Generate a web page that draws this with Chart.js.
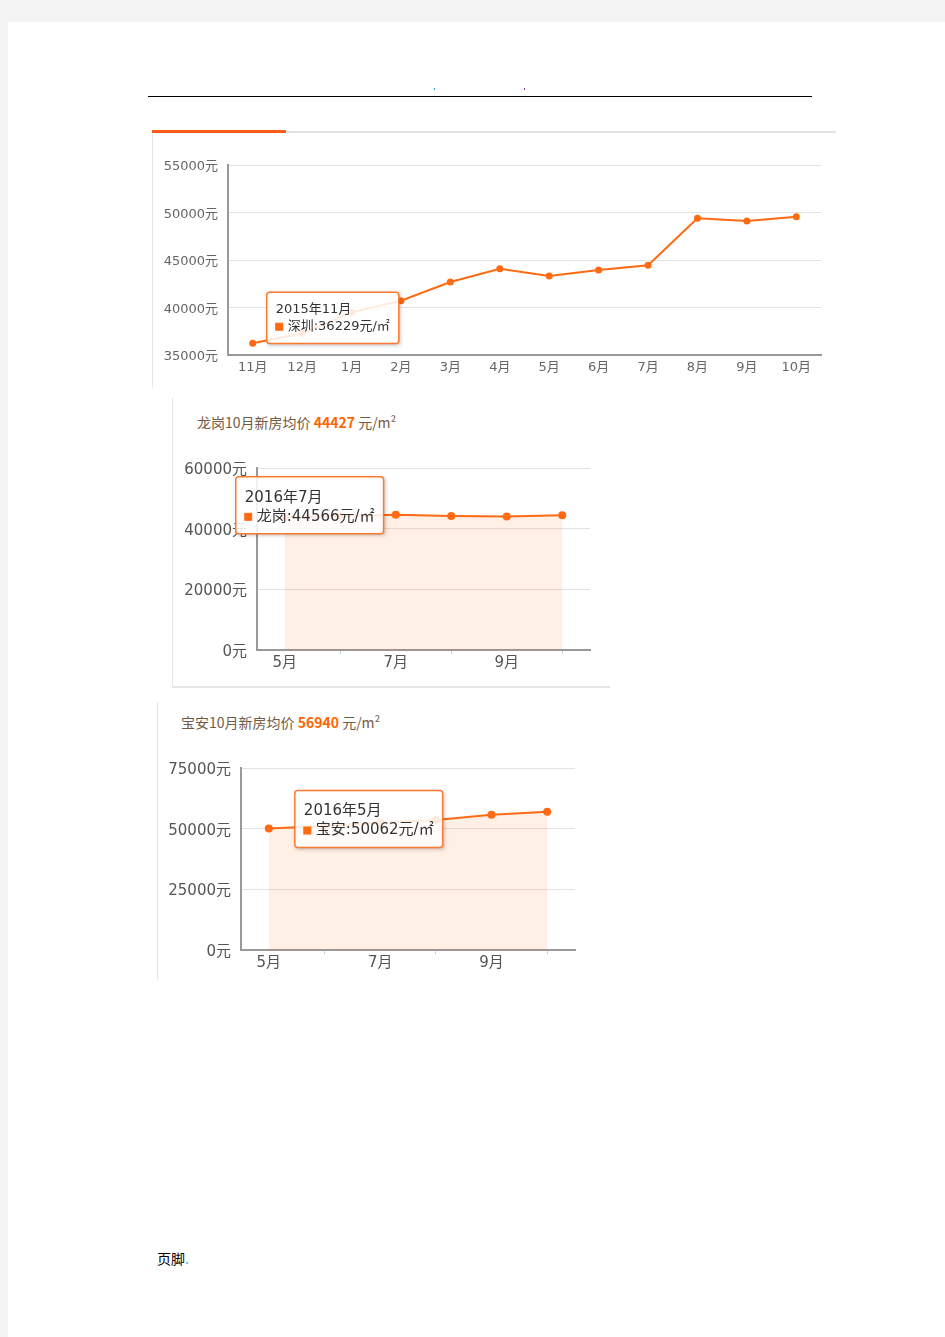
<!DOCTYPE html>
<html><head><meta charset="utf-8">
<script src="https://cdn.jsdelivr.net/npm/chart.js@4.4.1/dist/chart.umd.min.js"></script>
<style>
html,body{margin:0;padding:0;}
body{width:945px;height:1337px;background:#f3f3f3;position:relative;overflow:hidden;font-family:"Noto Sans CJK SC","DejaVu Sans",sans-serif;}
.page{position:absolute;left:8px;top:22px;width:937px;height:1315px;background:#fff;}
.abs{position:absolute;}
.title{position:absolute;font-size:14px;line-height:18px;color:#735a45;white-space:nowrap;font-family:"Noto Sans CJK SC",sans-serif;}
.title b{color:#ff6600;font-weight:bold;}
</style></head>
<body>
<div class="page"></div>
<!-- header -->
<div class="abs" style="left:148px;top:96px;width:664px;height:1px;background:#000;"></div>
<div class="abs" style="left:434px;top:88px;width:1px;height:2px;background:#2aa0d0;"></div>
<div class="abs" style="left:524px;top:88px;width:1px;height:2px;background:#7030a0;"></div>

<!-- chart 1 panel -->
<div class="abs" style="left:152px;top:130px;width:134px;height:3px;background:#ff5a1a;"></div>
<div class="abs" style="left:286px;top:131px;width:550px;height:2px;background:#e2e2e2;"></div>
<div class="abs" style="left:152px;top:133px;width:1px;height:255px;background:#e6e6e6;"></div>
<div class="abs" style="left:152px;top:140px;width:690px;height:250px;"><canvas id="c1"></canvas></div>

<!-- chart 2 panel -->
<div class="abs" style="left:172px;top:398px;width:1px;height:290px;background:#e2e2e2;"></div>
<div class="abs" style="left:172px;top:686px;width:438px;height:2px;background:#e6e6e6;"></div>
<div class="title" style="left:197px;top:413px;">龙岗10月新房均价 <b>44427</b> 元/m²</div>
<div class="abs" style="left:172px;top:440px;width:438px;height:240px;"><canvas id="c2"></canvas></div>

<!-- chart 3 panel -->
<div class="abs" style="left:157px;top:702px;width:1px;height:278px;background:#e6e6e6;"></div>
<div class="title" style="left:181px;top:713px;">宝安10月新房均价 <b>56940</b> 元/m²</div>
<div class="abs" style="left:157px;top:740px;width:438px;height:240px;"><canvas id="c3"></canvas></div>

<!-- footer -->
<div class="abs" style="left:157px;top:1249px;font-size:14px;line-height:18px;color:#000;">页脚<span style="color:#5ab4e6">.</span></div>

<script>
// ---- data ----
const szLabels = ['11月','12月','1月','2月','3月','4月','5月','6月','7月','8月','9月','10月'];
const szValues = [36229, 37280, 39490, 40716, 42684, 44084, 43316, 43947, 44442, 49400, 49100, 49550];
const szYears  = ['2015','2015','2016','2016','2016','2016','2016','2016','2016','2016','2016','2016'];
const szName = '深圳';
const szTicks = [35000, 40000, 45000, 50000, 55000];

const lgLabels = ['5月','6月','7月','8月','9月','10月'];
const lgValues = [43800, 44200, 44566, 44150, 43980, 44427];
const lgName = '龙岗';
const lgTicks = [0, 20000, 40000, 60000];

const baLabels = ['5月','6月','7月','8月','9月','10月'];
const baValues = [50062, 51100, 52450, 53560, 55700, 56940];
const baName = '宝安';
const baTicks = [0, 25000, 50000, 75000];

const tipYear = '2016';

// ---- tooltip placement: offset of box top-left from the active point ----
const tipOffsets = { c1: [14, -51], c2: [-160, -38], c3: [26, -38] };
const TIP_R = 3;
Chart.Tooltip.positioners.fixedOffset = function(items) {
  if (!items.length) return false;
  const el = items[0].element;
  const o = tipOffsets[this.chart.canvas.id];
  return { x: el.x + o[0] + TIP_R, y: el.y + o[1] };
};

const shadowPlugin = {
  id: 'tipShadow',
  beforeTooltipDraw(chart, args) {
    const t = args.tooltip;
    if (!t.opacity) return;
    const ctx = chart.ctx;
    ctx.save();
    ctx.beginPath();
    ctx.rect(0, 0, chart.width, chart.height);
    ctx.rect(t.x + t.width, t.y, -t.width, t.height);
    ctx.clip('evenodd');
    ctx.shadowColor = 'rgba(0,0,0,0.28)';
    ctx.shadowBlur = 4;
    ctx.shadowOffsetX = 1 + 10000;
    ctx.shadowOffsetY = 1;
    ctx.fillStyle = '#000';
    ctx.fillRect(t.x - 10000, t.y, t.width, t.height);
    ctx.restore();
  }
};

const ORANGE = '#ff6a13';
const FONT = "'DejaVu Sans','Noto Sans CJK SC',sans-serif";

function makeChart(id, cfg) {
  const ctx = document.getElementById(id);
  const chart = new Chart(ctx, {
    type: 'line',
    plugins: [shadowPlugin],
    data: {
      labels: cfg.labels,
      datasets: [{
        label: cfg.name,
        data: cfg.values,
        borderColor: ORANGE,
        backgroundColor: cfg.fill ? 'rgba(255,106,19,0.11)' : ORANGE,
        fill: cfg.fill ? 'origin' : false,
        borderWidth: 2,
        pointRadius: cfg.pointR,
        pointBackgroundColor: ORANGE,
        pointBorderColor: ORANGE,
        pointBorderWidth: 0,
        tension: 0
      }]
    },
    options: {
      responsive: true,
      maintainAspectRatio: false,
      animation: false,
      events: [],
      layout: { padding: { left: 0, right: cfg.padR, top: cfg.padT, bottom: 0 } },
      plugins: {
        legend: { display: false },
        title: { display: false },
        tooltip: {
          enabled: true,
          animation: false,
          position: 'fixedOffset',
          xAlign: 'left',
          yAlign: 'top',
          caretSize: 0,
          caretPadding: 0,
          cornerRadius: TIP_R,
          backgroundColor: 'rgba(255,255,255,0.86)',
          borderColor: '#ff7a2e',
          borderWidth: 1.5,
          padding: { left: 9, right: 9, top: cfg.tipPadT, bottom: cfg.tipPadB },
          titleColor: '#333',
          bodyColor: '#333',
          titleFont: { family: FONT, size: cfg.tipFont, weight: 'normal' },
          bodyFont: { family: FONT, size: cfg.tipFont, weight: 'normal' },
          titleMarginBottom: cfg.tipMB,
          displayColors: true,
          boxWidth: 7,
          boxHeight: 7,
          boxPadding: 3,
          multiKeyBackground: ORANGE,
          callbacks: {
            title: items => (cfg.years ? cfg.years[items[0].dataIndex] : tipYear) + '年' + items[0].label,
            label: c => c.dataset.label + ':' + c.parsed.y + '元/㎡',
            labelColor: () => ({ borderColor: ORANGE, backgroundColor: ORANGE, borderWidth: 0 })
          }
        }
      },
      scales: {
        x: {
          type: 'category',
          offset: true,
          afterFit: s => { s.height = cfg.xH; },
          border: { display: true, color: '#999', width: 2 },
          grid: {
            display: cfg.xTickMarks,
            drawOnChartArea: false,
            drawTicks: true,
            tickLength: 4,
            offset: false,
            color: c => (c.index % 2 ? '#c9d3de' : 'rgba(0,0,0,0)')
          },
          ticks: {
            color: cfg.tickColor,
            font: { family: FONT, size: cfg.tickFont },
            padding: cfg.xPad,
            autoSkip: false,
            maxRotation: 0,
            callback: function(v, i) { return (cfg.everyOther && i % 2) ? '' : this.getLabelForValue(v); }
          }
        },
        y: {
          min: cfg.ticks[0],
          max: cfg.ticks[cfg.ticks.length - 1],
          afterFit: s => { s.width = cfg.yW; },
          afterBuildTicks: s => { s.ticks = cfg.ticks.map(v => ({ value: v })); },
          border: { display: true, color: '#999', width: 2 },
          grid: { color: '#e2e2e2', lineWidth: 1, drawTicks: false },
          ticks: {
            color: cfg.tickColor,
            font: { family: FONT, size: cfg.tickFont },
            padding: 10,
            labelOffset: 2,
            callback: v => v + '元'
          }
        }
      }
    }
  });
  chart.tooltip.setActiveElements([{ datasetIndex: 0, index: cfg.tipIndex }], { x: 0, y: 0 });
  chart.update();
  return chart;
}

makeChart('c1', {
  labels: szLabels, values: szValues, name: szName, years: szYears, ticks: szTicks,
  fill: false, pointR: 3.5, padR: 21, padT: 25, xH: 35, yW: 76,
  tickFont: 13, tickColor: '#666', xPad: 1, xTickMarks: false, everyOther: false,
  tipFont: 13, tipPadT: 10, tipPadB: 9, tipMB: 1, tipIndex: 0
});
makeChart('c2', {
  labels: lgLabels, values: lgValues, name: lgName, ticks: lgTicks,
  fill: true, pointR: 4, padR: 20, padT: 28, xH: 30, yW: 85,
  tickFont: 15, tickColor: '#555', xPad: 0, xTickMarks: true, everyOther: true,
  tipFont: 15, tipPadT: 12, tipPadB: 8, tipMB: 1, tipIndex: 2
});
makeChart('c3', {
  labels: baLabels, values: baValues, name: baName, ticks: baTicks,
  fill: true, pointR: 4, padR: 20, padT: 28, xH: 30, yW: 84,
  tickFont: 15, tickColor: '#555', xPad: 0, xTickMarks: true, everyOther: true,
  tipFont: 15, tipPadT: 12, tipPadB: 8, tipMB: 1, tipIndex: 0
});
</script>
</body></html>
